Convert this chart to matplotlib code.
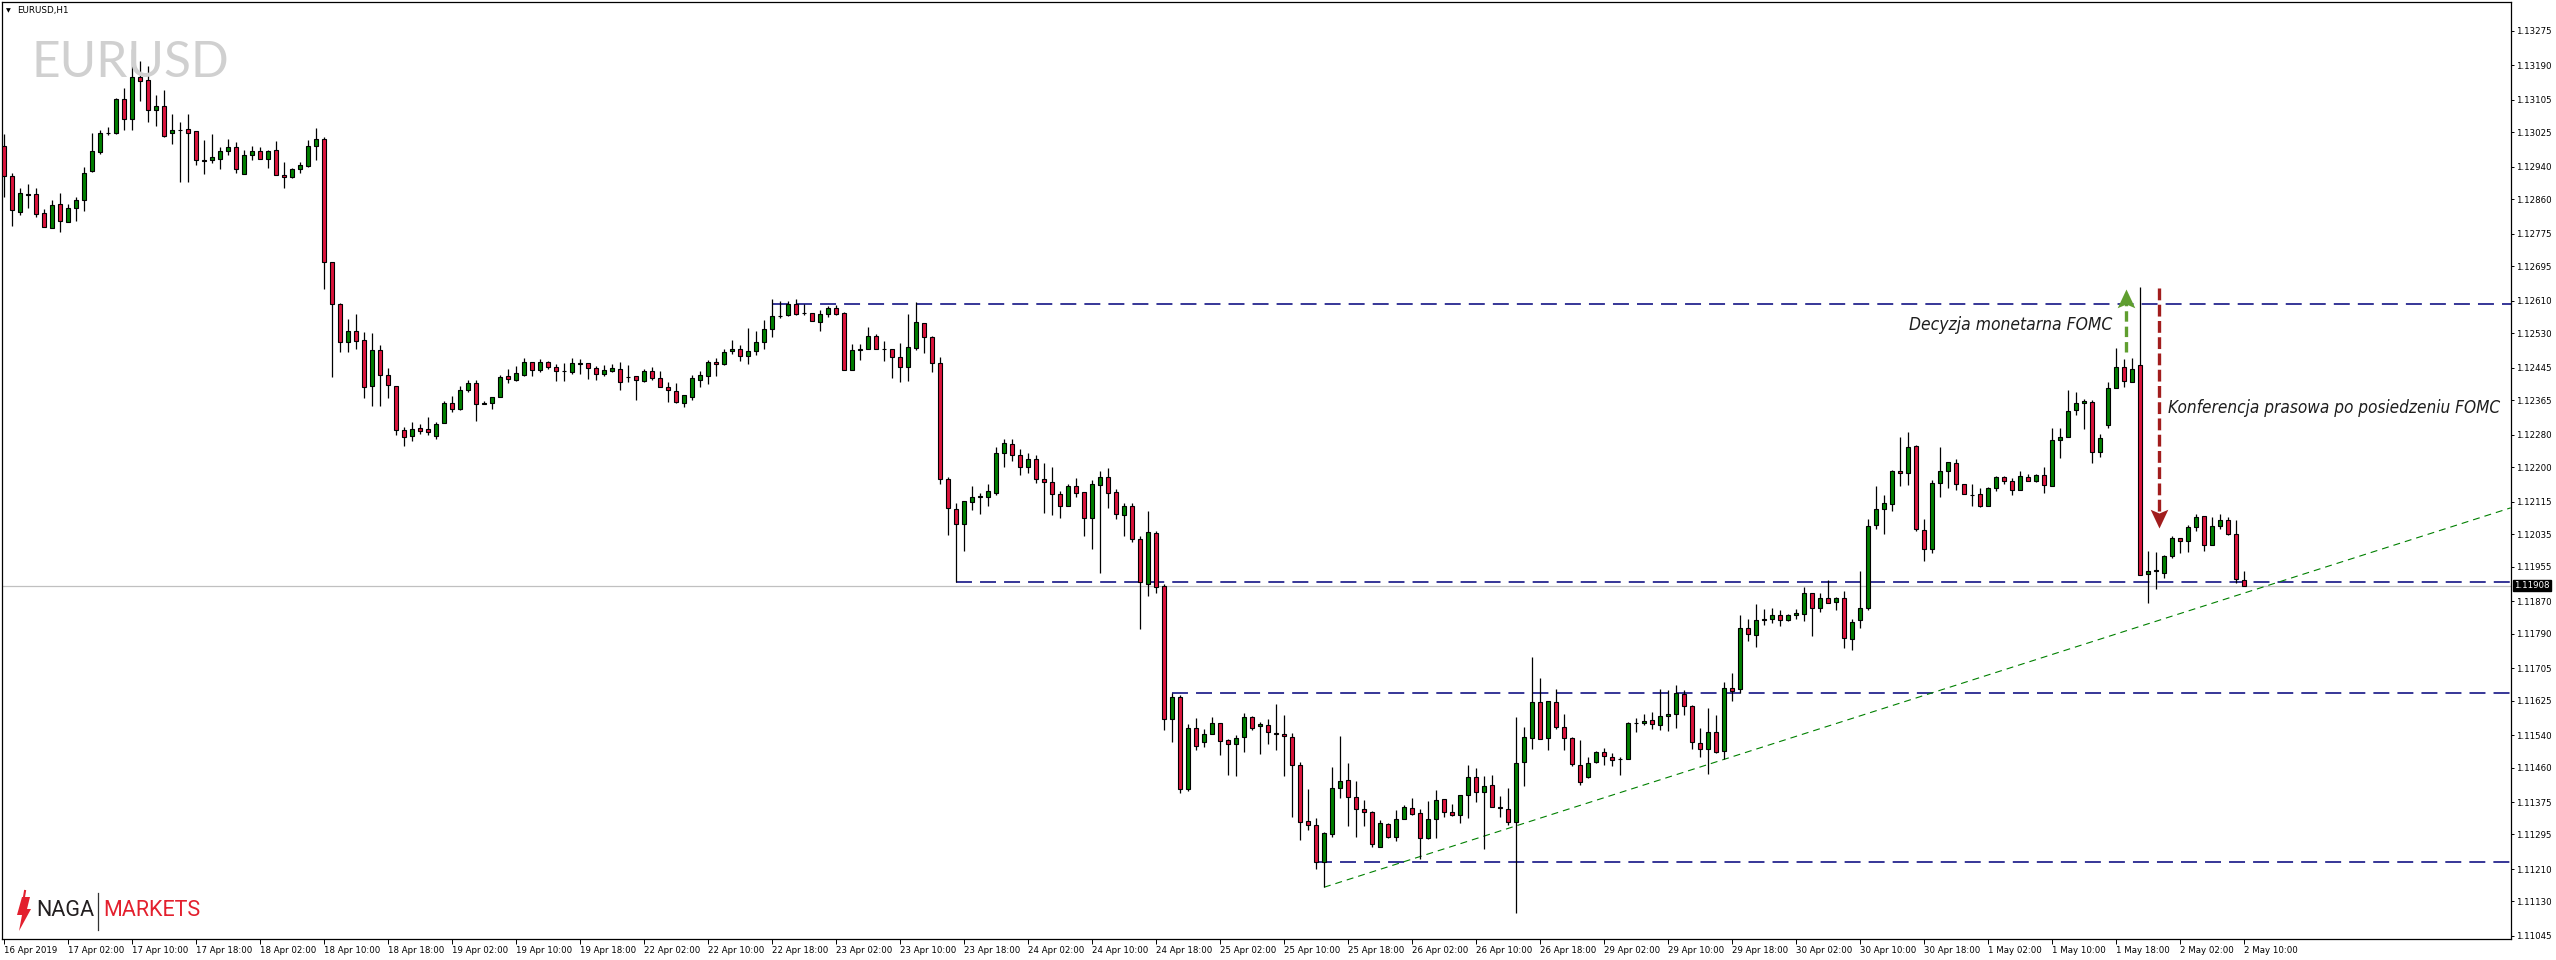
import matplotlib
matplotlib.use("Agg")
import matplotlib.pyplot as plt
from matplotlib import font_manager
from matplotlib.font_manager import FontProperties
from matplotlib.path import Path
import numpy as np

plt.rcParams['font.family'] = ['DejaVu Sans']
plt.rcParams['lines.scale_dashes'] = False

# ---------------- data (EURUSD H1, bar 0 = 16 Apr 2019 18:00) ----------------
opens = [1.12992, 1.12918, 1.12829, 1.12871, 1.12872, 1.12825, 1.12790, 1.12847, 1.12804, 1.12839,
         1.12859, 1.12930, 1.12977, 1.13022, 1.13024, 1.13106, 1.13057, 1.13162, 1.13153, 1.13079,
         1.13089, 1.13022, 1.13029, 1.13032, 1.13027, 1.12956, 1.12956, 1.12960, 1.12978, 1.12988,
         1.12923, 1.12968, 1.12978, 1.12958, 1.12980, 1.12919, 1.12915, 1.12933, 1.12942, 1.12990,
         1.13007, 1.12704, 1.12601, 1.12509, 1.12534, 1.12512, 1.12399, 1.12488, 1.12426, 1.12399,
         1.12291, 1.12276, 1.12295, 1.12293, 1.12276, 1.12308, 1.12359, 1.12342, 1.12389, 1.12406,
         1.12355, 1.12359, 1.12373, 1.12424, 1.12415, 1.12428, 1.12458, 1.12440, 1.12458, 1.12446,
         1.12437, 1.12435, 1.12455, 1.12456, 1.12443, 1.12430, 1.12437, 1.12441, 1.12423, 1.12424,
         1.12413, 1.12436, 1.12419, 1.12396, 1.12387, 1.12359, 1.12373, 1.12415, 1.12425, 1.12460,
         1.12453, 1.12485, 1.12490, 1.12473, 1.12485, 1.12507, 1.12539, 1.12571, 1.12575, 1.12601,
         1.12580, 1.12579, 1.12558, 1.12576, 1.12591, 1.12579, 1.12440, 1.12488, 1.12490, 1.12524,
         1.12492, 1.12490, 1.12470, 1.12446, 1.12494, 1.12554, 1.12520, 1.12456, 1.12170, 1.12096,
         1.12059, 1.12115, 1.12126, 1.12126, 1.12135, 1.12235, 1.12258, 1.12230, 1.12200, 1.12220,
         1.12170, 1.12162, 1.12133, 1.12103, 1.12153, 1.12138, 1.12074, 1.12155, 1.12176, 1.12138,
         1.12083, 1.12103, 1.12024, 1.11911, 1.12037, 1.11906, 1.11579, 1.11633, 1.11406, 1.11557,
         1.11522, 1.11542, 1.11569, 1.11527, 1.11517, 1.11534, 1.11584, 1.11562, 1.11564, 1.11545,
         1.11542, 1.11534, 1.11465, 1.11328, 1.11318, 1.11227, 1.11295, 1.11409, 1.11428, 1.11387,
         1.11357, 1.11350, 1.11263, 1.11320, 1.11288, 1.11332, 1.11360, 1.11347, 1.11286, 1.11332,
         1.11382, 1.11350, 1.11342, 1.11392, 1.11436, 1.11399, 1.11416, 1.11362, 1.11359, 1.11325,
         1.11473, 1.11532, 1.11621, 1.11532, 1.11621, 1.11561, 1.11532, 1.11465, 1.11436, 1.11473,
         1.11497, 1.11485, 1.11481, 1.11482, 1.11569, 1.11569, 1.11576, 1.11564, 1.11586, 1.11591,
         1.11640, 1.11611, 1.11520, 1.11505, 1.11547, 1.11500, 1.11655, 1.11653, 1.11803, 1.11786,
         1.11823, 1.11825, 1.11835, 1.11823, 1.11835, 1.11837, 1.11889, 1.11852, 1.11877, 1.11867,
         1.11877, 1.11776, 1.11823, 1.11852, 1.12057, 1.12096, 1.12108, 1.12190, 1.12185, 1.12251,
         1.12044, 1.11997, 1.12160, 1.12190, 1.12209, 1.12158, 1.12130, 1.12133, 1.12103, 1.12148,
         1.12175, 1.12165, 1.12143, 1.12175, 1.12165, 1.12180, 1.12153, 1.12266, 1.12273, 1.12340,
         1.12357, 1.12360, 1.12236, 1.12303, 1.12394, 1.12446, 1.12409, 1.12451, 1.11936, 1.11945,
         1.11938, 1.11980, 1.12025, 1.12017, 1.12052, 1.12079, 1.12007, 1.12054, 1.12069, 1.12034,
         1.11921]

highs = [1.13020, 1.12924, 1.12887, 1.12897, 1.12887, 1.12835, 1.12857, 1.12874, 1.12848, 1.12866,
         1.12939, 1.13023, 1.13030, 1.13037, 1.13108, 1.13133, 1.13229, 1.13200, 1.13188, 1.13116,
         1.13129, 1.13070, 1.13050, 1.13070, 1.13027, 1.13006, 1.13020, 1.12988, 1.13008, 1.13000,
         1.12981, 1.12992, 1.12988, 1.12981, 1.13003, 1.12951, 1.12937, 1.12951, 1.13006, 1.13034,
         1.13014, 1.12704, 1.12603, 1.12564, 1.12576, 1.12532, 1.12529, 1.12500, 1.12443, 1.12399,
         1.12298, 1.12310, 1.12305, 1.12323, 1.12310, 1.12362, 1.12374, 1.12399, 1.12414, 1.12414,
         1.12363, 1.12372, 1.12427, 1.12442, 1.12449, 1.12469, 1.12458, 1.12466, 1.12461, 1.12453,
         1.12456, 1.12469, 1.12465, 1.12456, 1.12449, 1.12451, 1.12453, 1.12458, 1.12451, 1.12424,
         1.12441, 1.12446, 1.12437, 1.12409, 1.12406, 1.12377, 1.12426, 1.12437, 1.12463, 1.12468,
         1.12490, 1.12513, 1.12500, 1.12543, 1.12535, 1.12562, 1.12614, 1.12609, 1.12609, 1.12614,
         1.12601, 1.12580, 1.12586, 1.12596, 1.12599, 1.12581, 1.12503, 1.12502, 1.12545, 1.12527,
         1.12511, 1.12490, 1.12506, 1.12577, 1.12607, 1.12554, 1.12522, 1.12471, 1.12175, 1.12111,
         1.12117, 1.12153, 1.12135, 1.12158, 1.12250, 1.12268, 1.12270, 1.12245, 1.12235, 1.12230,
         1.12210, 1.12200, 1.12140, 1.12158, 1.12173, 1.12138, 1.12168, 1.12190, 1.12198, 1.12145,
         1.12112, 1.12111, 1.12029, 1.12091, 1.12042, 1.11911, 1.11644, 1.11638, 1.11566, 1.11581,
         1.11554, 1.11584, 1.11569, 1.11529, 1.11539, 1.11594, 1.11586, 1.11571, 1.11579, 1.11616,
         1.11589, 1.11544, 1.11473, 1.11406, 1.11335, 1.11300, 1.11461, 1.11537, 1.11470, 1.11426,
         1.11379, 1.11352, 1.11330, 1.11323, 1.11355, 1.11367, 1.11384, 1.11357, 1.11377, 1.11405,
         1.11382, 1.11369, 1.11392, 1.11465, 1.11460, 1.11438, 1.11441, 1.11389, 1.11409, 1.11584,
         1.11561, 1.11731, 1.11680, 1.11625, 1.11653, 1.11591, 1.11534, 1.11527, 1.11485, 1.11500,
         1.11507, 1.11495, 1.11485, 1.11571, 1.11581, 1.11591, 1.11596, 1.11653, 1.11650, 1.11662,
         1.11650, 1.11613, 1.11557, 1.11606, 1.11589, 1.11670, 1.11694, 1.11835, 1.11825, 1.11862,
         1.11850, 1.11852, 1.11847, 1.11837, 1.11850, 1.11904, 1.11889, 1.11891, 1.11921, 1.11879,
         1.11894, 1.11825, 1.11943, 1.12071, 1.12153, 1.12130, 1.12194, 1.12273, 1.12286, 1.12254,
         1.12071, 1.12167, 1.12249, 1.12212, 1.12219, 1.12158, 1.12158, 1.12148, 1.12150, 1.12177,
         1.12177, 1.12172, 1.12190, 1.12182, 1.12182, 1.12199, 1.12296, 1.12296, 1.12389, 1.12384,
         1.12367, 1.12364, 1.12281, 1.12410, 1.12493, 1.12465, 1.12468, 1.12643, 1.11993, 1.11990,
         1.11983, 1.12030, 1.12025, 1.12057, 1.12084, 1.12079, 1.12076, 1.12084, 1.12076, 1.12069,
         1.11943]

lows = [1.12866, 1.12794, 1.12821, 1.12839, 1.12817, 1.12792, 1.12790, 1.12780, 1.12804, 1.12806,
        1.12831, 1.12928, 1.12971, 1.13019, 1.13020, 1.13030, 1.13030, 1.13102, 1.13051, 1.13040,
        1.13012, 1.12996, 1.12901, 1.12901, 1.12944, 1.12923, 1.12950, 1.12935, 1.12969, 1.12925,
        1.12923, 1.12956, 1.12958, 1.12937, 1.12919, 1.12888, 1.12913, 1.12925, 1.12940, 1.12957,
        1.12639, 1.12423, 1.12484, 1.12484, 1.12492, 1.12371, 1.12351, 1.12351, 1.12371, 1.12279,
        1.12253, 1.12263, 1.12281, 1.12278, 1.12268, 1.12308, 1.12335, 1.12340, 1.12384, 1.12314,
        1.12355, 1.12344, 1.12373, 1.12408, 1.12413, 1.12425, 1.12425, 1.12435, 1.12442, 1.12413,
        1.12413, 1.12430, 1.12430, 1.12418, 1.12415, 1.12425, 1.12435, 1.12391, 1.12410, 1.12366,
        1.12410, 1.12414, 1.12396, 1.12361, 1.12359, 1.12349, 1.12364, 1.12396, 1.12405, 1.12425,
        1.12451, 1.12478, 1.12462, 1.12455, 1.12475, 1.12492, 1.12521, 1.12566, 1.12573, 1.12575,
        1.12575, 1.12559, 1.12535, 1.12570, 1.12575, 1.12438, 1.12440, 1.12464, 1.12490, 1.12490,
        1.12462, 1.12420, 1.12410, 1.12413, 1.12489, 1.12482, 1.12433, 1.12159, 1.12032, 1.11916,
        1.11994, 1.12095, 1.12085, 1.12103, 1.12130, 1.12200, 1.12215, 1.12180, 1.12185, 1.12160,
        1.12088, 1.12083, 1.12075, 1.12103, 1.12126, 1.12031, 1.11999, 1.11938, 1.12098, 1.12071,
        1.12029, 1.12016, 1.11800, 1.11883, 1.11891, 1.11553, 1.11524, 1.11396, 1.11401, 1.11502,
        1.11510, 1.11542, 1.11492, 1.11442, 1.11440, 1.11497, 1.11552, 1.11494, 1.11519, 1.11504,
        1.11438, 1.11337, 1.11282, 1.11305, 1.11209, 1.11165, 1.11288, 1.11384, 1.11315, 1.11288,
        1.11315, 1.11263, 1.11263, 1.11286, 1.11278, 1.11332, 1.11342, 1.11234, 1.11283, 1.11286,
        1.11337, 1.11340, 1.11323, 1.11335, 1.11374, 1.11260, 1.11362, 1.11337, 1.11318, 1.11102,
        1.11414, 1.11506, 1.11529, 1.11502, 1.11554, 1.11502, 1.11463, 1.11416, 1.11433, 1.11470,
        1.11465, 1.11463, 1.11441, 1.11480, 1.11547, 1.11564, 1.11554, 1.11552, 1.11549, 1.11557,
        1.11589, 1.11505, 1.11485, 1.11443, 1.11495, 1.11480, 1.11625, 1.11643, 1.11771, 1.11758,
        1.11810, 1.11815, 1.11808, 1.11820, 1.11827, 1.11820, 1.11783, 1.11842, 1.11864, 1.11847,
        1.11754, 1.11749, 1.11803, 1.11847, 1.12047, 1.12034, 1.12093, 1.12153, 1.12155, 1.12042,
        1.11968, 1.11988, 1.12126, 1.12148, 1.12143, 1.12133, 1.12103, 1.12101, 1.12103, 1.12140,
        1.12158, 1.12130, 1.12143, 1.12165, 1.12163, 1.12135, 1.12153, 1.12222, 1.12273, 1.12328,
        1.12293, 1.12209, 1.12224, 1.12296, 1.12394, 1.12396, 1.12409, 1.11933, 1.11864, 1.11899,
        1.11926, 1.11975, 1.11988, 1.11990, 1.12042, 1.11993, 1.12007, 1.12047, 1.12032, 1.11914,
        1.11906]

closes = [1.12918, 1.12832, 1.12874, 1.12872, 1.12823, 1.12792, 1.12845, 1.12807, 1.12837, 1.12859,
          1.12924, 1.12978, 1.13024, 1.13024, 1.13106, 1.13057, 1.13162, 1.13152, 1.13079, 1.13089,
          1.13016, 1.13029, 1.13030, 1.13024, 1.12956, 1.12955, 1.12963, 1.12978, 1.12988, 1.12933,
          1.12968, 1.12979, 1.12958, 1.12978, 1.12919, 1.12914, 1.12933, 1.12943, 1.12992, 1.13007,
          1.12704, 1.12601, 1.12509, 1.12534, 1.12510, 1.12396, 1.12488, 1.12426, 1.12401, 1.12291,
          1.12273, 1.12293, 1.12288, 1.12286, 1.12305, 1.12359, 1.12342, 1.12389, 1.12406, 1.12355,
          1.12359, 1.12372, 1.12421, 1.12416, 1.12431, 1.12458, 1.12440, 1.12458, 1.12446, 1.12436,
          1.12437, 1.12456, 1.12457, 1.12443, 1.12430, 1.12438, 1.12443, 1.12409, 1.12422, 1.12414,
          1.12436, 1.12419, 1.12398, 1.12389, 1.12361, 1.12377, 1.12419, 1.12427, 1.12460, 1.12453,
          1.12483, 1.12490, 1.12473, 1.12485, 1.12507, 1.12539, 1.12571, 1.12573, 1.12601, 1.12578,
          1.12579, 1.12561, 1.12576, 1.12591, 1.12578, 1.12438, 1.12488, 1.12490, 1.12522, 1.12492,
          1.12491, 1.12470, 1.12446, 1.12495, 1.12557, 1.12520, 1.12456, 1.12170, 1.12098, 1.12061,
          1.12116, 1.12126, 1.12128, 1.12140, 1.12235, 1.12260, 1.12230, 1.12200, 1.12220, 1.12170,
          1.12162, 1.12133, 1.12103, 1.12153, 1.12135, 1.12074, 1.12158, 1.12176, 1.12135, 1.12084,
          1.12103, 1.12024, 1.11916, 1.12039, 1.11904, 1.11579, 1.11633, 1.11406, 1.11557, 1.11512,
          1.11542, 1.11569, 1.11525, 1.11517, 1.11532, 1.11584, 1.11557, 1.11566, 1.11547, 1.11543,
          1.11537, 1.11465, 1.11325, 1.11318, 1.11227, 1.11298, 1.11409, 1.11426, 1.11387, 1.11357,
          1.11350, 1.11271, 1.11323, 1.11288, 1.11332, 1.11362, 1.11345, 1.11286, 1.11332, 1.11379,
          1.11350, 1.11342, 1.11392, 1.11436, 1.11399, 1.11414, 1.11362, 1.11361, 1.11325, 1.11470,
          1.11534, 1.11621, 1.11529, 1.11623, 1.11561, 1.11532, 1.11468, 1.11424, 1.11470, 1.11497,
          1.11488, 1.11478, 1.11482, 1.11569, 1.11570, 1.11574, 1.11566, 1.11586, 1.11591, 1.11643,
          1.11611, 1.11522, 1.11505, 1.11547, 1.11497, 1.11655, 1.11648, 1.11803, 1.11789, 1.11823,
          1.11827, 1.11835, 1.11823, 1.11835, 1.11840, 1.11889, 1.11852, 1.11877, 1.11864, 1.11877,
          1.11778, 1.11818, 1.11852, 1.12054, 1.12096, 1.12111, 1.12190, 1.12185, 1.12249, 1.12047,
          1.11997, 1.12160, 1.12190, 1.12212, 1.12158, 1.12133, 1.12131, 1.12103, 1.12148, 1.12175,
          1.12165, 1.12143, 1.12177, 1.12165, 1.12180, 1.12155, 1.12266, 1.12273, 1.12337, 1.12357,
          1.12362, 1.12236, 1.12271, 1.12394, 1.12446, 1.12411, 1.12441, 1.11933, 1.11943, 1.11946,
          1.11980, 1.12025, 1.12017, 1.12052, 1.12076, 1.12007, 1.12054, 1.12069, 1.12034, 1.11924,
          1.11908]

x_labels = ["16 Apr 2019", "17 Apr 02:00", "17 Apr 10:00", "17 Apr 18:00", "18 Apr 02:00",
            "18 Apr 10:00", "18 Apr 18:00", "19 Apr 02:00", "19 Apr 10:00", "19 Apr 18:00",
            "22 Apr 02:00", "22 Apr 10:00", "22 Apr 18:00", "23 Apr 02:00", "23 Apr 10:00",
            "23 Apr 18:00", "24 Apr 02:00", "24 Apr 10:00", "24 Apr 18:00", "25 Apr 02:00",
            "25 Apr 10:00", "25 Apr 18:00", "26 Apr 02:00", "26 Apr 10:00", "26 Apr 18:00",
            "29 Apr 02:00", "29 Apr 10:00", "29 Apr 18:00", "30 Apr 02:00", "30 Apr 10:00",
            "30 Apr 18:00", "1 May 02:00", "1 May 10:00", "1 May 18:00", "2 May 02:00",
            "2 May 10:00"]
bars_per_label = 8

y_tick_labels = ["1.13275", "1.13190", "1.13105", "1.13025", "1.12940", "1.12860", "1.12775",
                 "1.12695", "1.12610", "1.12530", "1.12445", "1.12365", "1.12280", "1.12200",
                 "1.12115", "1.12035", "1.11955", "1.11870", "1.11790", "1.11705", "1.11625",
                 "1.11540", "1.11460", "1.11375", "1.11295", "1.11210", "1.11130", "1.11045"]

current_price = 1.11908

# horizontal levels (price, first bar)
level_prices = [1.12601, 1.11916, 1.11644, 1.11227]
level_start_bar = [96, 119, 146, 164]

# trend line anchors (bar, price)
trend_bars = [165, 215]
trend_prices = [1.11165, 1.11480]

# annotation arrows (bar, from price, to price)
green_arrow = (265.3, 1.12484, 1.12638)
red_arrow = (269.4, 1.12640, 1.12049)

# ---------------- figure ----------------
W, H = 2556, 960
DPI = 100
fig = plt.figure(figsize=(W / DPI, H / DPI), dpi=DPI, facecolor='white')
renderer = fig.canvas.get_renderer()


def fx(px):
    return px / W


def fy(py):
    return 1 - py / H


def fit_width(txt, target_px):
    bb = txt.get_window_extent(renderer=renderer)
    if bb.width > 0:
        txt.set_fontsize(txt.get_fontsize() * target_px / bb.width)


ax_left, ax_right, ax_top, ax_bottom = 2, 2510.7, 2, 939
ax = fig.add_axes([fx(ax_left), fy(ax_bottom), (ax_right - ax_left) / W, (ax_bottom - ax_top) / H])
ax.set_facecolor('white')

n = len(opens)
x = np.arange(n)
o = np.array(opens)
c = np.array(closes)
hi = np.array(highs)
lo = np.array(lows)

RED = '#DC143C'
GREEN = '#008000'
colors = [GREEN if cc > oo else RED for oo, cc in zip(o, c)]

ax.vlines(x, lo, hi, color='black', linewidth=0.9, zorder=3)
ax.bar(x, np.abs(c - o), bottom=np.minimum(o, c), width=0.62, color=colors,
       edgecolor='black', linewidth=0.8, zorder=4)

XMAX = 313.34
ax.set_xlim(-0.25, XMAX)
ax.set_ylim(1.110376, 1.133455)

# current price line
ax.axhline(current_price, color='#c0c0c0', linewidth=0.9, zorder=1)

# horizontal dashed levels
NAVY = '#00007a'
for p, b in zip(level_prices, level_start_bar):
    ax.plot([b, XMAX], [p, p], color=NAVY, linewidth=1.1,
            linestyle=(0, (11.5, 5.8)), zorder=2, solid_capstyle='butt')

# trend line (ray)
slope = (trend_prices[1] - trend_prices[0]) / (trend_bars[1] - trend_bars[0])
tx = np.array([trend_bars[0], XMAX])
ty = trend_prices[0] + slope * (tx - trend_bars[0])
ax.plot(tx, ty, color='#008000', linewidth=0.8, linestyle=(0, (5.0, 3.6)), zorder=2)


# arrows
def arrow_marker(up=True):
    s = 1 if up else -1
    verts = [(0, 0), (0.47, -1 * s), (0, -0.8 * s), (-0.47, -1 * s), (0, 0)]
    codes = [Path.MOVETO, Path.LINETO, Path.LINETO, Path.LINETO, Path.CLOSEPOLY]
    return Path(verts, codes)


px_per_price = (ax_bottom - ax_top) / (1.133455 - 1.110376)
head_len = 18 / px_per_price

ga_x, ga_y0, ga_y1 = green_arrow
GCOL = '#5f9e2f'
ax.plot([ga_x, ga_x], [ga_y0, ga_y1 - head_len * 0.8], color=GCOL, linewidth=2.4,
        linestyle=(0, (7.5, 3.6)), solid_capstyle='butt', zorder=5)
ax.plot([ga_x], [ga_y1], marker=arrow_marker(True), markersize=27, color=GCOL,
        markeredgewidth=0, zorder=6)

ra_x, ra_y0, ra_y1 = red_arrow
RCOL = '#a11d1d'
ax.plot([ra_x, ra_x], [ra_y0, ra_y1 + head_len * 0.8], color=RCOL, linewidth=2.4,
        linestyle=(0, (8.5, 3.2)), solid_capstyle='butt', zorder=5)
ax.plot([ra_x], [ra_y1], marker=arrow_marker(False), markersize=27, color=RCOL,
        markeredgewidth=0, zorder=6)


# annotation texts: a narrow italic face if one is installed
def pick_narrow_italic():
    best = None
    for f in font_manager.fontManager.ttflist:
        nm = f.name.lower()
        fn = f.fname.lower()
        if 'mono' in nm or 'cjk' in nm or 'serif' in nm:
            continue
        narrow = ('condensed' in nm or 'narrow' in nm or 'condensed' in fn or 'narrow' in fn
                  or str(f.stretch) in ('condensed', 'semi-condensed'))
        if not narrow or f.style not in ('italic', 'oblique'):
            continue
        try:
            w = int(f.weight)
        except (TypeError, ValueError):
            w = 400 if str(f.weight) in ('normal', 'regular', 'book') else 700
        score = abs(w - 350)
        if best is None or score < best[0]:
            best = (score, f.fname)
    if best is not None:
        return FontProperties(fname=best[1])
    return FontProperties(family='Liberation Sans', style='italic')


hand_fp = pick_narrow_italic()
t1 = fig.text(fx(2112), fy(325), "Decyzja monetarna FOMC", ha='right', va='center',
              fontproperties=hand_fp, fontsize=15, color='#1e1e1e')
t2 = fig.text(fx(2168), fy(408), "Konferencja prasowa po posiedzeniu FOMC", ha='left',
              va='center', fontproperties=hand_fp, fontsize=15, color='#1e1e1e')
fit_width(t1, 204)
fit_width(t2, 333)

# axes / ticks
for s in ax.spines.values():
    s.set_color('black')
    s.set_linewidth(0.9)

xt = [i * bars_per_label for i in range(len(x_labels))]
ax.set_xticks(xt)
ax.set_xticklabels(x_labels, ha='left', fontsize=6.2)
ax.tick_params(axis='x', direction='out', length=3.5, width=0.7, pad=1.5, colors='black')

yt = [float(v) for v in y_tick_labels]
ax.yaxis.tick_right()
ax.set_yticks(yt)
ax.set_yticklabels(y_tick_labels, fontsize=6.2)
ax.tick_params(axis='y', direction='out', length=2.5, width=0.7, pad=1.5, colors='black')

ax.annotate(f"{current_price:.5f}", xy=(1, current_price), xycoords=ax.get_yaxis_transform(),
            xytext=(2.6, 0), textcoords='offset points', ha='left', va='center',
            fontsize=6.2, color='white',
            bbox=dict(boxstyle='square,pad=0.12', fc='black', ec='black'), zorder=10,
            annotation_clip=False)

# header
fig.text(fx(6), fy(11), "\u25BC", fontsize=4.5, ha='left', va='center', color='black')
fig.text(fx(17), fy(11), "EURUSD,H1", fontsize=6.3, ha='left', va='center', color='black')

# watermark
wm = fig.text(fx(31), fy(63), "EURUSD", fontsize=39, family='Lato', weight='normal',
              ha='left', va='center', color='#d0d0d0', zorder=0)
fit_width(wm, 198)

# logo
chili = [(22, 897), (30, 897), (27, 909), (31, 909), (19, 931), (22, 915), (17, 915)]
fig.patches.append(plt.Polygon([(fx(a), fy(b)) for a, b in chili], closed=True,
                               transform=fig.transFigure, fc='#e3202e', ec='none'))
fig.lines.append(plt.Line2D([fx(25), fx(24)], [fy(891), fy(897)], transform=fig.transFigure,
                            color='#e3202e', linewidth=1.5))
fig.text(fx(36), fy(911), "NAGA", fontsize=15.5, family='Roboto', ha='left', va='center',
         color='#231f20')
fig.lines.append(plt.Line2D([fx(98), fx(98)], [fy(893), fy(930)], transform=fig.transFigure,
                            color='#333333', linewidth=0.9))
fig.text(fx(103), fy(911), "MARKETS", fontsize=15.5, family='Roboto', ha='left', va='center',
         color='#e3202e')

fig.savefig('out.png', dpi=DPI, facecolor='white')
